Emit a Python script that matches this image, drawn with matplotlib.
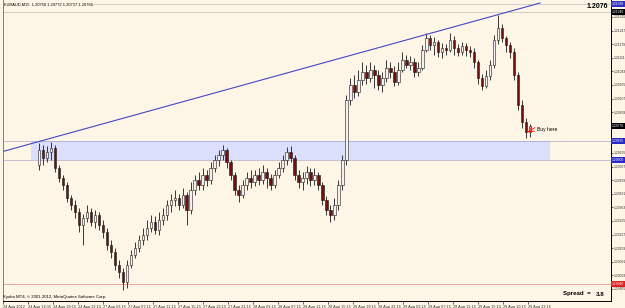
import matplotlib.pyplot as plt
import numpy as np

# EURAUD M15, 24-29 Aug 2012
opens = [1.20575, 1.20650, 1.20610, 1.20640, 1.20660, 1.20560, 1.20510, 1.20475, 1.20410, 1.20375,
         1.20340, 1.20275, 1.20310, 1.20340, 1.20290, 1.20325, 1.20275, 1.20240, 1.20175, 1.20140,
         1.20075, 1.20040, 1.19990, 1.20075, 1.20125, 1.20160, 1.20200, 1.20225, 1.20260, 1.20290,
         1.20250, 1.20300, 1.20325, 1.20375, 1.20400, 1.20410, 1.20375, 1.20425, 1.20350, 1.20450,
         1.20500, 1.20475, 1.20525, 1.20500, 1.20560, 1.20600, 1.20625, 1.20650, 1.20590, 1.20525,
         1.20450, 1.20425, 1.20475, 1.20510, 1.20490, 1.20525, 1.20500, 1.20540, 1.20510, 1.20475,
         1.20525, 1.20560, 1.20600, 1.20640, 1.20610, 1.20525, 1.20490, 1.20510, 1.20540, 1.20500,
         1.20525, 1.20475, 1.20400, 1.20350, 1.20325, 1.20375, 1.20475, 1.20600, 1.20900, 1.20975,
         1.20940, 1.21000, 1.21040, 1.21010, 1.21050, 1.21025, 1.20975, 1.21010, 1.21060, 1.21040,
         1.20990, 1.21050, 1.21100, 1.21075, 1.21090, 1.21040, 1.21060, 1.21150, 1.21210, 1.21175,
         1.21190, 1.21140, 1.21160, 1.21150, 1.21200, 1.21160, 1.21140, 1.21170, 1.21150, 1.21140,
         1.21090, 1.21010, 1.20970, 1.21020, 1.21075, 1.21200, 1.21260, 1.21210, 1.21175, 1.21140,
         1.21025, 1.20875, 1.20790, 1.20740]
highs = [1.20685, 1.20675, 1.20670, 1.20690, 1.20675, 1.20575, 1.20525, 1.20490, 1.20425, 1.20400,
         1.20360, 1.20330, 1.20375, 1.20360, 1.20350, 1.20340, 1.20300, 1.20260, 1.20200, 1.20160,
         1.20100, 1.20060, 1.20100, 1.20150, 1.20190, 1.20225, 1.20260, 1.20300, 1.20325, 1.20320,
         1.20340, 1.20360, 1.20400, 1.20430, 1.20450, 1.20430, 1.20460, 1.20440, 1.20490, 1.20525,
         1.20540, 1.20560, 1.20550, 1.20590, 1.20625, 1.20650, 1.20675, 1.20660, 1.20600, 1.20540,
         1.20475, 1.20500, 1.20540, 1.20550, 1.20550, 1.20560, 1.20575, 1.20560, 1.20530, 1.20550,
         1.20590, 1.20625, 1.20665, 1.20670, 1.20625, 1.20550, 1.20540, 1.20570, 1.20560, 1.20560,
         1.20540, 1.20490, 1.20420, 1.20375, 1.20410, 1.20500, 1.20625, 1.20925, 1.21010, 1.21025,
         1.21050, 1.21090, 1.21075, 1.21090, 1.21075, 1.21050, 1.21040, 1.21100, 1.21090, 1.21070,
         1.21090, 1.21140, 1.21125, 1.21120, 1.21110, 1.21090, 1.21175, 1.21235, 1.21225, 1.21215,
         1.21200, 1.21185, 1.21180, 1.21235, 1.21220, 1.21180, 1.21190, 1.21185, 1.21170, 1.21160,
         1.21100, 1.21030, 1.21050, 1.21100, 1.21225, 1.21325, 1.21280, 1.21220, 1.21190, 1.21160,
         1.21040, 1.20900, 1.20810, 1.20780]
lows = [1.20550, 1.20575, 1.20590, 1.20600, 1.20540, 1.20490, 1.20450, 1.20390, 1.20350, 1.20310,
        1.20240, 1.20175, 1.20290, 1.20270, 1.20260, 1.20250, 1.20210, 1.20150, 1.20110, 1.20050,
        1.20010, 1.19950, 1.19960, 1.20060, 1.20110, 1.20140, 1.20175, 1.20200, 1.20240, 1.20230,
        1.20225, 1.20275, 1.20300, 1.20340, 1.20370, 1.20350, 1.20360, 1.20275, 1.20330, 1.20425,
        1.20450, 1.20450, 1.20470, 1.20480, 1.20540, 1.20570, 1.20600, 1.20560, 1.20500, 1.20425,
        1.20390, 1.20410, 1.20450, 1.20460, 1.20470, 1.20475, 1.20480, 1.20460, 1.20450, 1.20460,
        1.20510, 1.20540, 1.20575, 1.20590, 1.20500, 1.20460, 1.20450, 1.20480, 1.20470, 1.20475,
        1.20450, 1.20375, 1.20325, 1.20290, 1.20300, 1.20350, 1.20450, 1.20575, 1.20875, 1.20910,
        1.20920, 1.20975, 1.20980, 1.20990, 1.20960, 1.20950, 1.20940, 1.20990, 1.21010, 1.20970,
        1.20975, 1.21040, 1.21060, 1.21050, 1.21015, 1.21020, 1.21050, 1.21140, 1.21150, 1.21125,
        1.21115, 1.21110, 1.21125, 1.21140, 1.21125, 1.21120, 1.21125, 1.21120, 1.21115, 1.21060,
        1.20980, 1.20950, 1.20960, 1.21000, 1.21060, 1.21180, 1.21190, 1.21140, 1.21110, 1.21000,
        1.20850, 1.20760, 1.20710, 1.20715]
closes = [1.20650, 1.20610, 1.20640, 1.20660, 1.20560, 1.20510, 1.20475, 1.20410, 1.20375, 1.20340,
          1.20275, 1.20310, 1.20340, 1.20290, 1.20325, 1.20275, 1.20240, 1.20175, 1.20140, 1.20075,
          1.20040, 1.19990, 1.20075, 1.20125, 1.20160, 1.20200, 1.20225, 1.20260, 1.20290, 1.20250,
          1.20300, 1.20325, 1.20375, 1.20400, 1.20410, 1.20375, 1.20425, 1.20350, 1.20450, 1.20500,
          1.20475, 1.20525, 1.20500, 1.20560, 1.20600, 1.20625, 1.20650, 1.20590, 1.20525, 1.20450,
          1.20425, 1.20475, 1.20510, 1.20490, 1.20525, 1.20500, 1.20540, 1.20510, 1.20475, 1.20525,
          1.20560, 1.20600, 1.20640, 1.20610, 1.20525, 1.20490, 1.20510, 1.20540, 1.20500, 1.20525,
          1.20475, 1.20400, 1.20350, 1.20325, 1.20375, 1.20475, 1.20600, 1.20900, 1.20975, 1.20940,
          1.21000, 1.21040, 1.21010, 1.21050, 1.21025, 1.20975, 1.21010, 1.21060, 1.21040, 1.20990,
          1.21050, 1.21100, 1.21075, 1.21090, 1.21040, 1.21060, 1.21150, 1.21210, 1.21175, 1.21190,
          1.21140, 1.21160, 1.21150, 1.21200, 1.21160, 1.21140, 1.21170, 1.21150, 1.21140, 1.21090,
          1.21010, 1.20970, 1.21020, 1.21075, 1.21200, 1.21260, 1.21210, 1.21175, 1.21140, 1.21025,
          1.20875, 1.20790, 1.20740, 1.20770]

time_labels = ["24 Aug 2012", "24 Aug 14:15", "24 Aug 18:15", "24 Aug 22:15", "27 Aug 03:15",
               "27 Aug 07:15", "27 Aug 11:15", "27 Aug 15:15", "27 Aug 19:15", "27 Aug 23:15",
               "28 Aug 03:15", "28 Aug 07:15", "28 Aug 11:15", "28 Aug 15:15", "28 Aug 19:15",
               "28 Aug 23:15", "29 Aug 03:15", "29 Aug 07:15", "29 Aug 11:15", "29 Aug 15:15",
               "29 Aug 19:15", "29 Aug 23:15"]
# scale ticks (the ones hidden behind the coloured level labels are left out)
price_ticks = [1.21315, 1.21247, 1.21179, 1.21111, 1.21043, 1.20975, 1.20907, 1.20839,
               1.20635, 1.20567, 1.20499, 1.20431, 1.20363, 1.20295, 1.20227, 1.20159,
               1.20091, 1.20023, 1.19955]

header = "EURAUD,M15  1.20750 1.20772 1.20737 1.20766"
bid = 1.20770
level_top = 1.21380
level_top2 = 1.21340
zone_high = 1.20695
zone_low = 1.20600
level_red = 1.19980
zone_bars = [-2.0, 128.0]      # bar range covered by the buy zone
trend_bars = [-9.5, 125.5]
trend_prices = [1.20640, 1.21385]

BG = '#fdf6e6'
FONT = 'Liberation Sans'

fig = plt.figure(figsize=(6.25, 3.08), dpi=100)
fig.patch.set_facecolor(BG)
ax = fig.add_axes([3 / 625, 7 / 308, 608 / 625, 301 / 308])
ax.set_facecolor(BG)
ax.set_xlim(-8.75, 143.25)
ax.set_ylim(1.19895, 1.21400)

# buy zone + level lines
ax.fill_between(zone_bars, zone_low, zone_high, color='#dcdffc', lw=0, zorder=0.5)
dot = (0, (1.2, 1.2))
for lvl, col in [(level_top, '#9a9a9a'), (level_top2, '#9a9a9a'),
                 (zone_high, '#7c7cb8'), (zone_low, '#7c7cb8'), (level_red, '#d04040')]:
    ax.axhline(lvl, color=col, lw=0.6, ls=dot, zorder=0.8)

# candles
o, h, l, c = map(np.array, (opens, highs, lows, closes))
idx = np.arange(len(o))
up = c >= o
ax.vlines(idx, l, h, color='#1a1a1a', lw=0.6, zorder=2)
ax.bar(idx[up], (c - o)[up], bottom=o[up], width=0.6, color='#f4f0f0',
       edgecolor='#1a1a1a', lw=0.4, zorder=3)
ax.bar(idx[~up], (o - c)[~up], bottom=c[~up], width=0.6, color='#6e1010',
       edgecolor='#1a1a1a', lw=0.4, zorder=3)

# trend line
ax.plot(trend_bars, trend_prices, color='#4646c4', lw=0.8, zorder=4)

# annotation
ax.annotate('', xy=(122.4, 1.20738), xytext=(124.2, 1.20762),
            arrowprops=dict(arrowstyle='->', color='red', lw=0.6, shrinkA=0, shrinkB=0))
ax.text(124.8, 1.20750, "Buy here", fontsize=3.6, family=FONT, va='center', ha='left')

# axes styling
ax.spines['top'].set_visible(False)
ax.spines['left'].set_color('#808080')
ax.spines['right'].set_color('black')
ax.spines['bottom'].set_color('black')
for s in ax.spines.values():
    s.set_linewidth(0.7)

ax.yaxis.tick_right()
ax.set_yticks(price_ticks, ['%.5f' % p for p in price_ticks])
ax.tick_params(axis='y', labelsize=2.4, length=1.5, width=0.5, pad=0.6, colors='#303030')
tick_pos = -9.0 + 6.26 * np.arange(len(time_labels))
ax.set_xticks(tick_pos, time_labels)
ax.tick_params(axis='x', labelsize=2.8, length=2, width=0.5, pad=1, colors='#303030')
for t in ax.get_xticklabels():
    t.set_ha('left')
for t in ax.get_xticklabels() + ax.get_yticklabels():
    t.set_family(FONT)

# coloured price labels on the scale
ytr = ax.get_yaxis_transform()
for val, col in [(level_top, '#3030c0'), (level_top2, 'black'), (bid, 'black'),
                 (zone_high, '#2828c8'), (zone_low, '#2828c8'), (level_red, '#e02020')]:
    ax.text(1.002, val, '%.5f' % val, transform=ytr, fontsize=2.4, family=FONT,
            color='white', va='center', ha='left', clip_on=False, zorder=10,
            bbox=dict(boxstyle='square,pad=0.3', fc=col, ec='none'))

# header and footer texts
fig.text(4 / 625, 1 - 5 / 308, header, fontsize=2.9, family=FONT, va='center', ha='left',
         bbox=dict(boxstyle='square,pad=0.1', fc=BG, ec='none'))
fig.text(608 / 625, 1 - 7 / 308, "1.2076", fontsize=5, family=FONT, weight='bold',
         va='center', ha='right')
fig.text(3 / 625, 1 - 297 / 308, "Kyobo MT4, \u00a9 2001-2012, MetaQuotes Software Corp.",
         fontsize=3.1, family=FONT, va='center', ha='left')
fig.text(563 / 625, 1 - 294 / 308, "Spread  =", fontsize=4.4, family=FONT, weight='bold',
         va='center', ha='left')
fig.text(605 / 625, 1 - 294 / 308, "3.8", fontsize=4.4, family=FONT, weight='bold',
         va='center', ha='right')

fig.savefig('out.png', dpi=100, facecolor=BG)
